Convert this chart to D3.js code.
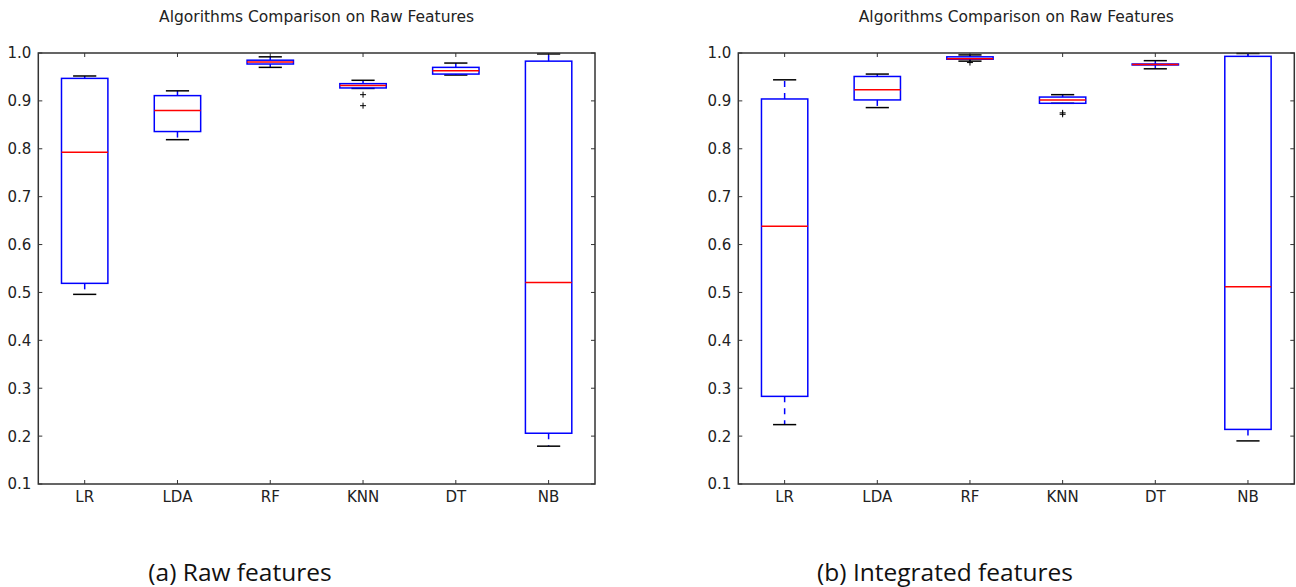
<!DOCTYPE html>
<html>
<head>
<meta charset="utf-8">
<script src="https://cdn.jsdelivr.net/npm/d3@7"></script>
<style>
  body { margin: 0; background: #fff; }
  svg { display: block; }
</style>
</head>
<body>
<script>
// categories and y ticks
const algorithms = ["LR", "LDA", "RF", "KNN", "DT", "NB"];
const yTicks = [0.1, 0.2, 0.3, 0.4, 0.5, 0.6, 0.7, 0.8, 0.9, 1.0];

// raw features: [whisker low, q1, median, q3, whisker high]
const rawStats = [
  [0.496, 0.519, 0.793, 0.947, 0.952],
  [0.819, 0.836, 0.880, 0.911, 0.921],
  [0.970, 0.977, 0.981, 0.985, 0.992],
  [0.926, 0.927, 0.932, 0.936, 0.943],
  [0.954, 0.956, 0.963, 0.970, 0.979],
  [0.179, 0.206, 0.521, 0.983, 0.998]
];
const rawFliers = [[], [], [], [0.913, 0.890], [], []];

// integrated features
const intStats = [
  [0.224, 0.283, 0.638, 0.904, 0.944],
  [0.886, 0.902, 0.923, 0.951, 0.956],
  [0.983, 0.987, 0.988, 0.992, 0.996],
  [0.895, 0.895, 0.902, 0.908, 0.913],
  [0.967, 0.975, 0.976, 0.977, 0.984],
  [0.190, 0.214, 0.512, 0.993, 0.999]
];
const intFliers = [[], [], [0.980], [0.875, 0.872], [], []];

const panelTitle = "Algorithms Comparison on Raw Features";
const captions = ["(a) Raw features", "(b) Integrated features"];

const W = 1296, H = 587;
const svg = d3.select("body").append("svg")
  .attr("width", W)
  .attr("height", H);

function drawPanel(left, right, stats, fliers, caption, capX) {
  const top = 53, bottom = 484;
  const x = d3.scaleLinear().domain([0.5, 6.5]).range([left, right]);
  const y = d3.scaleLinear().domain([0.1, 1.0]).range([bottom, top]);
  const g = svg.append("g");
  const boxW = x(1.25) - x(1);
  const capW = x(1.125) - x(1);

  // title
  g.append("text")
    .attr("x", (left + right) / 2)
    .attr("y", 22)
    .attr("text-anchor", "middle")
    .style("font-family", "DejaVu Sans")
    .style("font-size", "15.5px")
    .style("fill", "#222")
    .text(panelTitle);

  // ticks (inside, all sides)
  yTicks.forEach(t => {
    g.append("line").attr("x1", left).attr("x2", left + 4)
      .attr("y1", y(t)).attr("y2", y(t)).attr("stroke", "#333");
    g.append("line").attr("x1", right).attr("x2", right - 4)
      .attr("y1", y(t)).attr("y2", y(t)).attr("stroke", "#333");
    g.append("text")
      .attr("x", left - 7)
      .attr("y", y(t))
      .attr("dy", "0.36em")
      .attr("text-anchor", "end")
      .style("font-family", "DejaVu Sans")
      .style("font-size", "15px")
      .style("fill", "#222")
      .text(d3.format(".1f")(t));
  });
  algorithms.forEach((a, i) => {
    const cx = x(i + 1);
    g.append("line").attr("x1", cx).attr("x2", cx)
      .attr("y1", bottom).attr("y2", bottom - 4).attr("stroke", "#333");
    g.append("line").attr("x1", cx).attr("x2", cx)
      .attr("y1", top).attr("y2", top + 4).attr("stroke", "#333");
    g.append("text")
      .attr("x", cx)
      .attr("y", bottom + 18)
      .attr("text-anchor", "middle")
      .style("font-family", "DejaVu Sans")
      .style("font-size", "15px")
      .style("fill", "#222")
      .text(a);
  });

  // boxes
  stats.forEach((s, i) => {
    const cx = x(i + 1);
    const [lo, q1, med, q3, hi] = s;
    // whiskers
    g.append("line").attr("x1", cx).attr("x2", cx)
      .attr("y1", y(q1)).attr("y2", y(lo))
      .attr("stroke", "#0000ff").attr("stroke-width", 1.5)
      .attr("stroke-dasharray", "6,6");
    g.append("line").attr("x1", cx).attr("x2", cx)
      .attr("y1", y(q3)).attr("y2", y(hi))
      .attr("stroke", "#0000ff").attr("stroke-width", 1.5)
      .attr("stroke-dasharray", "6,6");
    // caps
    [lo, hi].forEach(v => {
      g.append("line").attr("x1", cx - capW).attr("x2", cx + capW)
        .attr("y1", y(v)).attr("y2", y(v))
        .attr("stroke", "#000").attr("stroke-width", 1.5);
    });
    // box
    g.append("rect")
      .attr("x", cx - boxW).attr("width", 2 * boxW)
      .attr("y", y(q3)).attr("height", Math.max(0, y(q1) - y(q3)))
      .attr("fill", "none")
      .attr("stroke", "#0000ff").attr("stroke-width", 1.5);
    // median
    g.append("line").attr("x1", cx - boxW).attr("x2", cx + boxW)
      .attr("y1", y(med)).attr("y2", y(med))
      .attr("stroke", "#ff0000").attr("stroke-width", 1.5);
    // fliers
    fliers[i].forEach(v => {
      g.append("path")
        .attr("d", `M${cx - 3},${y(v)}H${cx + 3}M${cx},${y(v) - 3}V${y(v) + 3}`)
        .attr("stroke", "#000").attr("stroke-width", 1);
    });
  });

  // frame
  g.append("rect")
    .attr("x", left).attr("y", top)
    .attr("width", right - left).attr("height", bottom - top)
    .attr("fill", "none").attr("stroke", "#333").attr("stroke-width", 1.5);

  // caption
  svg.append("text")
    .attr("x", capX)
    .attr("y", 581)
    .attr("text-anchor", "middle")
    .style("font-family", "Open Sans")
    .style("font-size", "24.5px")
    .style("fill", "#111")
    .text(caption);
}

drawPanel(38.3, 595, rawStats, rawFliers, captions[0], 240);
drawPanel(738.3, 1294.3, intStats, intFliers, captions[1], 945);
</script>
</body>
</html>
